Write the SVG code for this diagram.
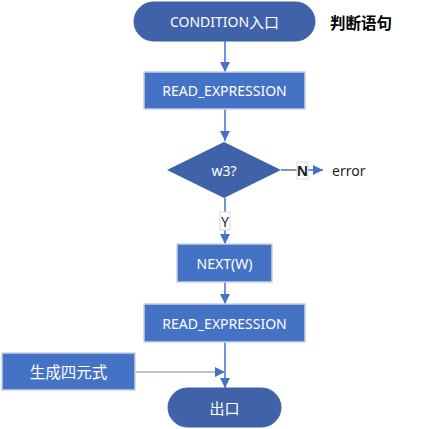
<svg xmlns="http://www.w3.org/2000/svg" width="430" height="429" viewBox="0 0 430 429">
<defs>
<marker id="ah" viewBox="0 0 10 10" refX="10" refY="5" markerWidth="10" markerHeight="10" markerUnits="userSpaceOnUse" orient="auto">
<path d="M0,0 L10,5 L0,10 z" fill="#4472C4"/>
</marker>
</defs>
<style>
.term{fill:#3F62A9;stroke:#3F62A9;}
.box{fill:#4472C4;stroke:#C9D1E3;stroke-width:1.5;}
.t{font-family:"Noto Sans","Noto Sans CJK SC",sans-serif;font-size:14px;fill:#FFFFFF;text-anchor:middle;dominant-baseline:central;}
.cn{font-size:15px;}
.ln{stroke:#4472C4;stroke-width:1.5;fill:none;}
.lbl{fill:#FFFFFF;stroke:#D9D9D9;stroke-width:1;}
.lt{font-family:"Noto Sans","Noto Sans CJK SC",sans-serif;font-size:14px;fill:#1F1F1F;text-anchor:middle;dominant-baseline:central;}
</style>
<g id="connectors">
<line class="ln" x1="225" y1="41" x2="225" y2="72" marker-end="url(#ah)"/>
<line class="ln" x1="225" y1="109" x2="225" y2="141" marker-end="url(#ah)"/>
<line class="ln" x1="281" y1="170" x2="323" y2="170" marker-end="url(#ah)"/>
<rect class="lbl" x="297" y="162" width="11" height="17"/>
<text class="lt" x="302.5" y="170" font-weight="bold">N</text>
<line class="ln" x1="225" y1="198" x2="225" y2="244" marker-end="url(#ah)"/>
<rect class="lbl" x="220" y="212" width="10" height="18"/>
<text class="lt" x="225" y="221">Y</text>
<line class="ln" x1="225" y1="282" x2="225" y2="304" marker-end="url(#ah)"/>
<line class="ln" x1="225" y1="342" x2="225" y2="388" marker-end="url(#ah)"/>
<line x1="135" y1="372" x2="225" y2="372" stroke="#9DAFD3" stroke-width="1.5" marker-end="url(#ah)"/>
</g>
<g id="start">
<rect class="term" x="134" y="2" width="181" height="39" rx="19.5"/>
<text class="t" x="224.5" y="21.5">CONDITION<tspan class="cn">入口</tspan></text>
</g>
<g id="title">
<text x="330" y="22" font-family="'Noto Sans CJK SC',sans-serif" font-size="15.5" font-weight="bold" fill="#000" dominant-baseline="central">判断语句</text>
</g>
<g id="read1">
<rect class="box" x="144" y="72" width="161" height="37"/>
<text class="t" x="224.5" y="90.5">READ_EXPRESSION</text>
</g>
<g id="decision">
<polygon points="224,142 281,170 224,198 167,170" fill="#3F62A9"/>
<text class="t" x="224" y="170">w3?</text>
</g>
<g id="error">
<text class="lt" x="332" y="170" style="text-anchor:start">error</text>
</g>
<g id="next">
<rect class="box" x="177" y="244" width="95" height="38"/>
<text class="t" x="224.5" y="263">NEXT(W)</text>
</g>
<g id="read2">
<rect class="box" x="144" y="304" width="161" height="38"/>
<text class="t" x="224.5" y="323">READ_EXPRESSION</text>
</g>
<g id="gen">
<rect class="box" x="2" y="353" width="133" height="37"/>
<text class="t cn" x="68.5" y="371.5" style="font-size:15.5px">生成四元式</text>
</g>
<g id="exit">
<rect class="term" x="168" y="388" width="113" height="39" rx="19.5"/>
<text class="t cn" x="224.5" y="407.5">出口</text>
</g>
</svg>
